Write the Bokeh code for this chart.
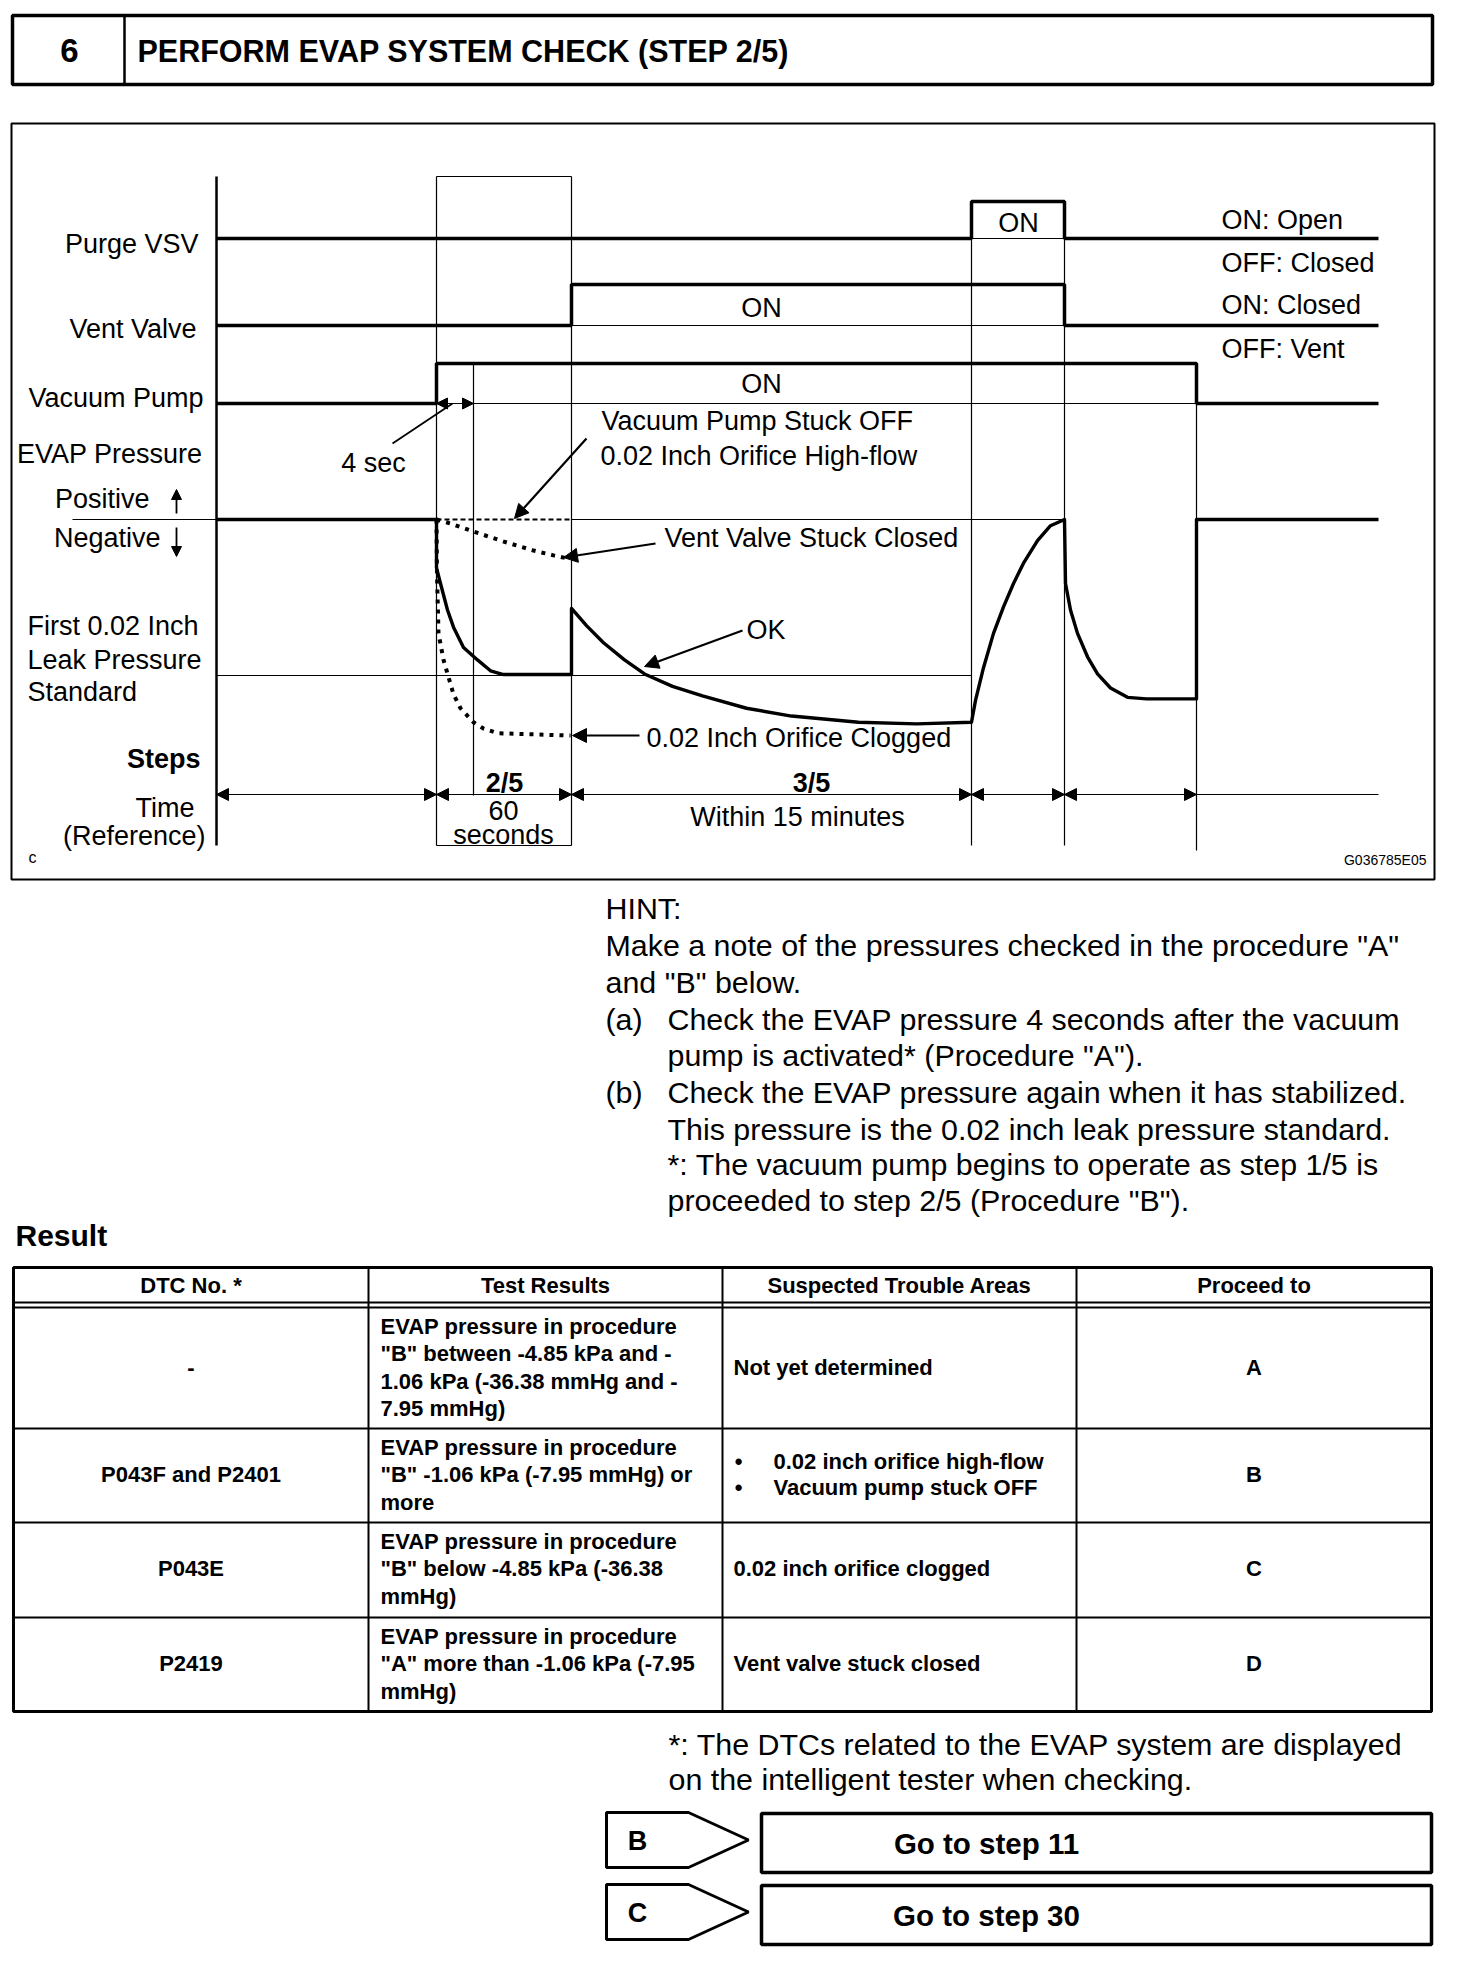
from bokeh.plotting import figure
from bokeh.models import Range1d, Arrow, NormalHead
from bokeh.core.properties import value
from bokeh.embed import file_html
from bokeh.resources import INLINE

FONT = "Liberation Sans"

# ---------------- data ----------------
step_no = "6"
step_title = "PERFORM EVAP SYSTEM CHECK (STEP 2/5)"

# timing diagram time base (diagram units)
step_edges = [0.0, 2.20, 3.55, 7.55, 8.48, 9.80]
t_end = 11.62
t_4sec = 2.57

purge_t = [0.0, 7.55, 7.55, 8.48, 8.48, 11.62]
purge_on = [0, 0, 1, 1, 0, 0]
vent_t = [0.0, 3.55, 3.55, 8.48, 8.48, 11.62]
vent_on = [0, 0, 1, 1, 0, 0]
pump_t = [0.0, 2.20, 2.20, 9.80, 9.80, 11.62]
pump_on = [0, 0, 1, 1, 0, 0]

# EVAP pressure: 0 = atmospheric, -1 = first 0.02 inch leak pressure standard
ok_t = [0.00, 2.20, 2.20, 2.24, 2.31, 2.37, 2.47, 2.61, 2.74, 2.87, 3.55,
        3.55, 3.70, 3.87, 4.08, 4.28, 4.56, 4.86, 5.30, 5.75, 6.42, 7.00, 7.55,
        7.59, 7.67, 7.77, 7.87, 7.97, 8.07, 8.21, 8.34, 8.48,
        8.49, 8.54, 8.61, 8.71, 8.81, 8.94, 9.11, 9.30, 9.80, 9.80, 11.62]
ok_p = [0.00, 0.00, -0.31, -0.41, -0.58, -0.69, -0.82, -0.90, -0.97, -0.994, -0.994,
        -0.57, -0.68, -0.79, -0.90, -0.99, -1.07, -1.13, -1.21, -1.26, -1.30, -1.31, -1.30,
        -1.16, -0.95, -0.73, -0.56, -0.41, -0.28, -0.135, -0.04, 0.00,
        -0.41, -0.58, -0.73, -0.88, -0.99, -1.08, -1.14, -1.15, -1.15, 0.00, 0.00]
clog_t = [2.20, 2.205, 2.22, 2.27, 2.32, 2.37, 2.44, 2.57, 2.67, 2.81, 3.54]
clog_p = [0.00, -0.35, -0.73, -0.90, -1.01, -1.12, -1.21, -1.30, -1.34, -1.37, -1.385]
vstuck_t = [2.20, 2.34, 2.54, 2.84, 3.17, 3.37, 3.51]
vstuck_p = [0.00, -0.026, -0.07, -0.135, -0.199, -0.23, -0.25]
pstuck_t = [2.20, 3.55]
pstuck_p = [0.0, 0.0]

row_names = ["Purge VSV", "Vent Valve", "Vacuum Pump"]
state_labels = ["ON: Open", "OFF: Closed", "ON: Closed", "OFF: Vent"]

hint_lines = ["HINT:",
              'Make a note of the pressures checked in the procedure "A"',
              'and "B" below.',
              "Check the EVAP pressure 4 seconds after the vacuum",
              'pump is activated* (Procedure "A").',
              "Check the EVAP pressure again when it has stabilized.",
              "This pressure is the 0.02 inch leak pressure standard.",
              "*: The vacuum pump begins to operate as step 1/5 is",
              'proceeded to step 2/5  (Procedure "B").']

table_header = ["DTC No. *", "Test Results", "Suspected Trouble Areas", "Proceed to"]
dtc_codes = ["-", "P043F and P2401", "P043E", "P2419"]
test_results = [
    ["EVAP pressure in procedure", '"B" between -4.85 kPa and -',
     "1.06 kPa (-36.38 mmHg and -", "7.95 mmHg)"],
    ["EVAP pressure in procedure", '"B" -1.06 kPa (-7.95 mmHg) or', "more"],
    ["EVAP pressure in procedure", '"B" below -4.85 kPa (-36.38', "mmHg)"],
    ["EVAP pressure in procedure", '"A" more than -1.06 kPa (-7.95', "mmHg)"],
]
trouble_areas = [["Not yet determined"],
                 ["0.02 inch orifice high-flow", "Vacuum pump stuck OFF"],
                 ["0.02 inch orifice clogged"],
                 ["Vent valve stuck closed"]]
proceed_to = ["A", "B", "C", "D"]

footnote = ["*: The DTCs related to the EVAP system are displayed",
            "on the intelligent tester when checking."]
goto_keys = ["B", "C"]
goto_text = ["Go to step 11", "Go to step 30"]

# ---------------- figure (page pixel coordinates) ----------------
W, H = 1456, 1950
p = figure(width=W, height=H, x_range=Range1d(0, W), y_range=Range1d(H, 0),
           output_backend="svg", toolbar_location=None, min_border=0,
           x_axis_location=None, y_axis_location=None)
p.grid.visible = False
p.outline_line_color = None


def txt(xs, ys, texts, size, align="left", bold=False):
    p.text(x=xs, y=ys, text=texts, text_font=value(FONT), text_font_size=f"{size}px",
           text_align=align, text_baseline="middle", text_color="black",
           text_font_style="bold" if bold else "normal")


def seg(x0, y0, x1, y1, w=1.0, dash="solid"):
    p.line([x0, x1], [y0, y1], line_color="black", line_width=w, line_dash=dash)


def arrow(x0, y0, x1, y1, size=12, w=1.5, both=False):
    head = NormalHead(size=size, fill_color="black", line_color="black", line_width=1)
    start = NormalHead(size=size, fill_color="black", line_color="black", line_width=1) if both else None
    p.add_layout(Arrow(start=start, end=head, x_start=x0, y_start=y0, x_end=x1, y_end=y1,
                       line_width=w, line_color="black"))


# ---- header ----
p.quad(left=12, right=1432, top=15, bottom=84, fill_color=None, line_color="black", line_width=3.5)
seg(124, 15, 124, 84, 2.5)
txt([69], [50], [step_no], 33, "center", True)
txt([137], [50], [step_title], 30.5, "left", True)

# ---- diagram frame ----
p.quad(left=11, right=1434, top=123, bottom=879, fill_color=None, line_color="black", line_width=2)

X0, XS = 216, 100.0
Y0, YS = 519, 156.0


def X(t):
    return X0 + XS * t


def YP(v):
    return Y0 - YS * v


row_lo = [238, 325, 403]
row_hi = [201, 284, 363]

# thin guide lines
thin = 1.2
seg(X(0), 176, X(0), 845, 2.5)                      # axis
seg(X(2.20), 176, X(2.20), 845, thin)               # step 2/5 box
seg(X(3.55), 176, X(3.55), 845, thin)
seg(X(2.20), 176, X(3.55), 176, thin)
seg(X(2.20), 845, X(3.55), 845, thin)
seg(X(t_4sec), row_hi[2], X(t_4sec), 795, thin)
seg(X(7.55), row_lo[0], X(7.55), 845, thin)
seg(X(8.48), row_lo[0], X(8.48), 845, thin)
seg(X(9.80), row_lo[2], X(9.80), 850, thin)
seg(X(7.55), row_lo[0], X(8.48), row_lo[0], thin)
seg(X(3.55), row_lo[1], X(8.48), row_lo[1], thin)
seg(X(t_4sec), row_lo[2], X(9.80), row_lo[2], thin)
seg(72, YP(0), X(0), YP(0), thin)
seg(X(3.55), YP(0), X(8.48), YP(0), thin)
seg(X(0), YP(-1), X(7.55), YP(-1), thin)
seg(X(0), 794, X(t_end), 794, thin)

# signals
for ts, st, lo, hi in [(purge_t, purge_on, row_lo[0], row_hi[0]),
                       (vent_t, vent_on, row_lo[1], row_hi[1]),
                       (pump_t, pump_on, row_lo[2], row_hi[2])]:
    p.line([X(t) for t in ts], [hi if s else lo for s in st], line_color="black", line_width=3.5)

# pressure curves
p.line([X(t) for t in pstuck_t], [YP(v) for v in pstuck_p], line_color="black", line_width=2,
       line_dash="5 3")
p.line([X(t) for t in ok_t], [YP(v) for v in ok_p], line_color="black", line_width=3.4,
       line_join="round")
p.line([X(t) for t in clog_t], [YP(v) for v in clog_p], line_color="black", line_width=4,
       line_dash="4 6")
p.line([X(t) for t in vstuck_t], [YP(v) for v in vstuck_p], line_color="black", line_width=4,
       line_dash="4 6")

# time dimension arrows
for a, b in zip(step_edges[:-1], step_edges[1:]):
    arrow(X(a), 794, X(b), 794, size=12, w=1.0, both=True)
# 4 sec dimension
arrow(X(2.20), row_lo[2], X(t_4sec), row_lo[2], size=11, w=1.0, both=True)
seg(392, 443, 452, 403, 1.8)

# positive / negative arrows
arrow(176, 513, 176, 489, size=10, w=1.8)
arrow(176, 527, 176, 556, size=10, w=1.8)

# leaders
arrow(586, 438, 514, 518, size=14, w=2.2)
arrow(655, 543, 563, 557, size=14, w=2.2)
arrow(742, 630, 644, 666, size=14, w=2.2)
arrow(639, 735, 572, 735, size=14, w=2.2)

# diagram texts
D = 27
txt([198, 196, 203, 202, 149, 160, 194, 205],
    [243, 328, 397, 453, 498, 537, 807, 835],
    row_names + ["EVAP Pressure", "Positive", "Negative", "Time", "(Reference)"], D, "right")
txt([27, 27, 27], [625, 659, 691], ["First 0.02 Inch", "Leak Pressure", "Standard"], D, "left")
txt([200], [758], ["Steps"], D, "right", True)
txt([373], [462], ["4 sec"], D, "center")
txt([1018, 761, 761], [222, 307, 383], ["ON", "ON", "ON"], D, "center")
txt([1221] * 4, [219, 262, 304, 348], state_labels, D, "left")
txt([601, 600, 664, 746, 646], [420, 455, 537, 629, 737],
    ["Vacuum Pump Stuck OFF", "0.02 Inch Orifice High-flow", "Vent Valve Stuck Closed",
     "OK", "0.02 Inch Orifice Clogged"], D, "left")
txt([504, 811], [782, 782], ["2/5", "3/5"], D, "center", True)
txt([503, 503, 797], [810, 834, 816], ["60", "seconds", "Within 15 minutes"], D, "center")
txt([32], [857], ["c"], 16, "center")
txt([1426], [859], ["G036785E05"], 14, "right")

# ---- hint ----
HF = 30.4
hx = [605, 605, 605, 667, 667, 667, 667, 667, 667]
hy = [907, 944, 981, 1018, 1054, 1091, 1128, 1163, 1199]
txt(hx, hy, hint_lines, HF, "left")
txt([605, 605], [1018, 1091], ["(a)", "(b)"], HF, "left")

# ---- result table ----
txt([15], [1235], ["Result"], 30, "left", True)
col_x = [13, 368, 722, 1076, 1431]
row_y = [1267, 1302, 1428, 1522, 1617, 1711]
p.quad(left=col_x[0], right=col_x[-1], top=row_y[0], bottom=row_y[-1], fill_color=None,
       line_color="black", line_width=3)
for cx in col_x[1:-1]:
    seg(cx, row_y[0], cx, row_y[-1], 2)
seg(col_x[0], 1302, col_x[-1], 1302, 2)
seg(col_x[0], 1307, col_x[-1], 1307, 2)
for ry in row_y[2:-1]:
    seg(col_x[0], ry, col_x[-1], ry, 2)

TF = 22
centers = [(col_x[i] + col_x[i + 1]) / 2 for i in range(4)]
txt(centers, [1285] * 4, table_header, TF, "center", True)
row_mid = [1367, 1474, 1568, 1663]
line_h = 27.5
for i in range(4):
    txt([centers[0]], [row_mid[i]], [dtc_codes[i]], TF, "center", True)
    n = len(test_results[i])
    ys = [row_mid[i] + (k - (n - 1) / 2) * line_h for k in range(n)]
    txt([380] * n, ys, test_results[i], TF, "left", True)
    m = len(trouble_areas[i])
    if m == 1:
        txt([733], [row_mid[i]], trouble_areas[i], TF, "left", True)
    else:
        ys2 = [row_mid[i] + (k - (m - 1) / 2) * 26 for k in range(m)]
        txt([773] * m, ys2, trouble_areas[i], TF, "left", True)
        txt([738] * m, ys2, ["\u2022"] * m, TF, "center", True)
    txt([centers[3]], [row_mid[i]], [proceed_to[i]], TF, "center", True)

# ---- footnote ----
txt([668, 668], [1743, 1778], footnote, HF, "left")

# ---- go-to boxes ----
for k, (top, bot) in enumerate([(1812, 1867), (1884, 1939)]):
    mid = (top + bot) / 2
    p.patch([606, 688, 748, 688, 606], [top, top, mid, bot, bot], fill_color=None,
            line_color="black", line_width=3)
    txt([637], [mid + 1], [goto_keys[k]], 27, "center", True)
    p.quad(left=761, right=1431, top=top + 1, bottom=bot + 5, fill_color=None,
           line_color="black", line_width=3.5)
    txt([986], [mid + 3], [goto_text[k]], 29.5, "center", True)

open("out.html", "w").write(file_html(p, INLINE))
